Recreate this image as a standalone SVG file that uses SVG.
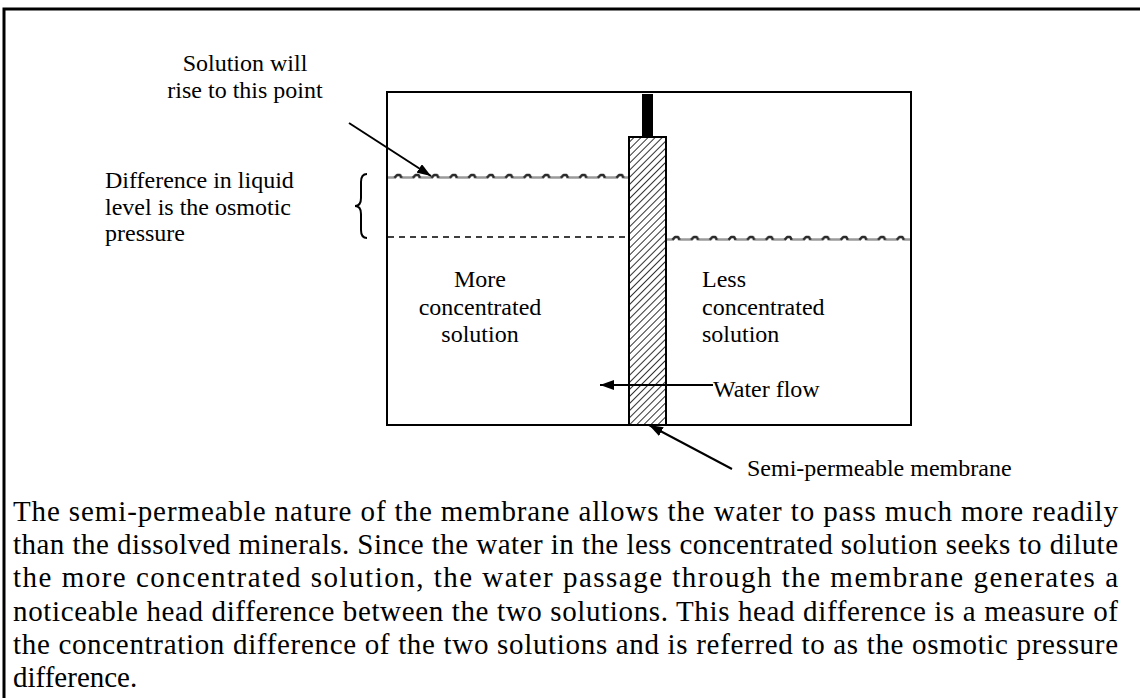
<svg xmlns="http://www.w3.org/2000/svg" width="1140" height="698" viewBox="0 0 1140 698">
<defs>
<style>
text{font-family:"Liberation Serif","Times New Roman",serif;font-size:24px;fill:#000}
.body{font-size:29px}
.ln{stroke:#000;stroke-width:2;fill:none}
.arr{stroke:#000;stroke-width:2;marker-end:url(#ah)}
</style>
<pattern id="hatch" width="5" height="5" patternUnits="userSpaceOnUse" patternTransform="rotate(45)">
<rect width="5" height="5" fill="#fff"/>
<line x1="0" y1="0" x2="0" y2="5" stroke="#333" stroke-width="2"/>
</pattern>
<pattern id="wave" x="388" y="171" width="18.5" height="12" patternUnits="userSpaceOnUse">
<path d="M0,6.5 H7 M13,6.5 H18.5" stroke="#9a9a9a" stroke-width="2.6" fill="none"/>
<path d="M6.5,6.8 L9,4 H12 L13.5,6.8" stroke="#2a2a2a" stroke-width="2.6" fill="none" stroke-linejoin="round"/>
</pattern>
<pattern id="wave2" x="666" y="233" width="18.7" height="12" patternUnits="userSpaceOnUse">
<path d="M0,6.5 H7 M13,6.5 H18.7" stroke="#9a9a9a" stroke-width="2.6" fill="none"/>
<path d="M6.5,6.8 L9,4 H12 L13.5,6.8" stroke="#2a2a2a" stroke-width="2.6" fill="none" stroke-linejoin="round"/>
</pattern>
<marker id="ah" viewBox="0 0 14 10" refX="14" refY="5" markerWidth="14" markerHeight="10" orient="auto" markerUnits="userSpaceOnUse">
<path d="M0,0 L14,5 L0,10 z" fill="#000"/>
</marker>
</defs>
<rect width="1140" height="698" fill="#fff"/>
<path d="M4,698 V9 H1140" stroke="#000" stroke-width="3" fill="none"/>

<g id="tank">
<rect x="387" y="92" width="524" height="333" class="ln"/>
</g>
<g id="levels">
<rect x="388" y="171" width="240" height="12" fill="url(#wave)"/>
<rect x="666" y="233" width="244" height="12" fill="url(#wave2)"/>
<path d="M388,237 H628" stroke="#000" stroke-width="1.5" stroke-dasharray="6 5"/>
</g>
<g id="membrane">
<rect x="642" y="94" width="11" height="43" fill="#000"/>
<rect x="629" y="137" width="37" height="288" fill="url(#hatch)" stroke="#000" stroke-width="2"/>
</g>
<g id="brace">
<path d="M367,174 q-6,0 -6,8 v16 q0,8 -6,8 q6,0 6,8 v16 q0,8 6,8" class="ln" stroke-width="1.5"/>
</g>
<g id="connectors">
<line x1="349" y1="123" x2="431" y2="176" class="arr"/>
<line x1="713" y1="385" x2="600" y2="385" class="arr"/>
<line x1="732" y1="469" x2="649" y2="425" class="arr"/>
</g>
<g id="labels">
<text x="245" y="71" text-anchor="middle">Solution will</text>
<text x="245" y="98" text-anchor="middle">rise to this point</text>
<text x="105" y="188">Difference in liquid</text>
<text x="105" y="215">level is the osmotic</text>
<text x="105" y="241">pressure</text>
<text x="480" y="287" text-anchor="middle">More</text>
<text x="480" y="314.5" text-anchor="middle">concentrated</text>
<text x="480" y="342" text-anchor="middle">solution</text>
<text x="702" y="287">Less</text>
<text x="702" y="314.5">concentrated</text>
<text x="702" y="342">solution</text>
<text x="713" y="397">Water flow</text>
<text x="747" y="476">Semi-permeable membrane</text>
</g>
<g id="body" class="body">
<text class="body" x="13" y="521" textLength="1105" lengthAdjust="spacing">The semi-permeable nature of the membrane allows the water to pass much more readily</text>
<text class="body" x="13" y="554.2" textLength="1105" lengthAdjust="spacing">than the dissolved minerals. Since the water in the less concentrated solution seeks to dilute</text>
<text class="body" x="13" y="587.4" textLength="1105" lengthAdjust="spacing">the more concentrated solution, the water passage through the membrane generates a</text>
<text class="body" x="13" y="620.6" textLength="1105" lengthAdjust="spacing">noticeable head difference between the two solutions. This head difference is a measure of</text>
<text class="body" x="13" y="653.8" textLength="1105" lengthAdjust="spacing">the concentration difference of the two solutions and is referred to as the osmotic pressure</text>
<text class="body" x="13" y="687">difference.</text>
</g>
</svg>
